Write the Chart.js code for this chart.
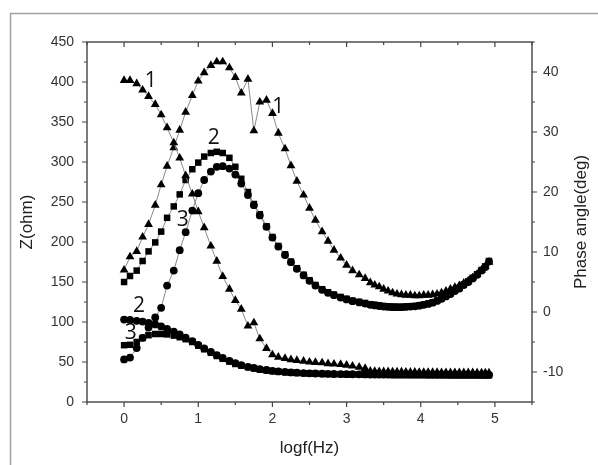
<!DOCTYPE html>
<html>
<head>
<meta charset="utf-8">
<script src="https://cdn.jsdelivr.net/npm/chart.js@4.4.1/dist/chart.umd.min.js"></script>
<style>
  html, body { margin: 0; padding: 0; background: #fff; }
  #wrap { width: 598px; height: 465px; }
</style>
</head>
<body>
<div id="wrap"><canvas id="chart" width="598" height="465"></canvas></div>
<script>
// --- Data ---
const logf = [
  0.00,0.08,0.17,0.25,0.33,0.42,0.50,0.58,0.67,0.75,
  0.83,0.92,1.00,1.08,1.17,1.25,1.33,1.42,1.50,1.58,
  1.67,1.75,1.83,1.92,2.00,2.08,2.17,2.25,2.33,2.42,
  2.50,2.58,2.67,2.75,2.83,2.92,3.00,3.08,3.17,3.25,
  3.32,3.38,3.44,3.50,3.56,3.62,3.68,3.74,3.80,3.86,
  3.92,3.98,4.04,4.10,4.16,4.22,4.28,4.34,4.40,4.46,
  4.52,4.58,4.64,4.70,4.76,4.82,4.87,4.92
];

// impedance, left axis (ohm)
const zCurve1 = [ // triangles
  402,402,398,390,382,372,359,343,324,305,
  283,260,238,218,195,176,157,141,127,116,
  95,99,79,67,59,56,54.5,53,52,51,
  50,49.5,49,48,47.5,47,46,45,43.5,42,
  38.5,38.3,38.1,38,37.9,37.8,37.7,37.6,37.5,37.4,
  37.3,37.2,37.2,37.1,37.0,37.0,36.9,36.9,36.8,36.8,
  36.7,36.7,36.6,36.6,36.5,36.5,36.4,36.4
];
const zCurve2 = [ // circles
  103,102.5,101.5,100.5,99,97,94.5,91.5,88,84.5,
  80.5,76,71.5,67,62.5,58.5,55,51.5,48.5,46,
  44,42.5,41,40,39,38.2,37.6,37,36.6,36.2,
  35.9,35.6,35.4,35.2,35,34.9,34.8,34.7,34.6,34.5,
  34.4,34.4,34.3,34.3,34.3,34.2,34.2,34.2,34.2,34.1,
  34.1,34.1,34.1,34.0,34.0,34.0,34.0,34.0,33.9,33.9,
  33.9,33.9,33.9,33.9,33.8,33.8,33.8,33.8
];
const zCurve3 = [ // squares
  71,71.5,75,80,83.5,85,85,84.5,83,81,
  78.5,75,70.5,66,61.5,57.5,54,50.5,47.5,45.5,
  43.5,42,40.5,39.5,38.5,37.8,37.2,36.7,36.3,35.9,
  35.6,35.3,35.1,34.9,34.7,34.6,34.5,34.4,34.3,34.2,
  34.1,34.1,34.0,34.0,34.0,33.9,33.9,33.9,33.9,33.8,
  33.8,33.8,33.8,33.7,33.7,33.7,33.7,33.7,33.6,33.6,
  33.6,33.6,33.6,33.6,33.5,33.5,33.5,33.5
];

// phase angle, right axis (deg)
const phaseCurve1 = [ // triangles
  7.0,9.2,10.1,12.5,14.6,17.8,21.2,24.3,27.4,30.3,
  33.3,36.1,38.5,39.9,41.1,41.7,41.7,40.7,39.1,36.5,
  38.8,30.2,35.0,35.3,33.1,29.8,27.2,24.4,21.8,19.5,
  17.3,15.3,13.4,11.8,10.3,9.0,7.8,6.9,6.2,5.6,
  4.9,4.5,4.2,3.8,3.5,3.2,3.0,2.9,2.8,2.8,
  2.7,2.7,2.8,2.8,2.9,3.0,3.2,3.5,3.8,4.1,
  4.4,4.8,5.2,5.7,6.3,7.0,7.6,8.3
];
const phaseCurve2 = [ // squares
  5.0,6.0,6.9,8.5,10.1,11.6,13.4,15.7,17.6,19.6,
  22.0,23.8,24.9,25.9,26.5,26.7,26.5,25.7,24.2,22.2,
  20.0,18.0,16.3,14.3,12.5,11.0,9.6,8.4,7.3,6.2,
  5.3,4.5,3.8,3.3,2.9,2.5,2.2,1.9,1.7,1.5,
  1.3,1.2,1.1,1.0,0.95,0.9,0.85,0.85,0.9,0.95,
  1.0,1.1,1.25,1.4,1.6,1.9,2.3,2.7,3.1,3.6,
  4.0,4.6,5.1,5.7,6.3,7.0,7.6,8.5
];
const phaseCurve3 = [ // circles
  -7.9,-7.6,-6.0,-4.3,-2.6,-0.9,0.7,4.4,6.9,10.3,
  13.3,16.9,19.8,22.0,23.4,24.2,24.3,23.9,22.9,21.4,
  19.5,17.8,16.1,14.2,12.4,10.9,9.5,8.3,7.2,6.1,
  5.2,4.4,3.7,3.2,2.8,2.4,2.1,1.8,1.6,1.4,
  1.2,1.1,1.0,0.9,0.85,0.8,0.8,0.8,0.85,0.9,
  0.95,1.05,1.2,1.35,1.55,1.85,2.2,2.6,3.0,3.5,
  3.9,4.5,5.0,5.6,6.2,6.9,7.5,8.4
];

// tick labels
const xTicks = [0, 1, 2, 3, 4, 5];
const zTicks = [0, 50, 100, 150, 200, 250, 300, 350, 400, 450];
const phaseTicks = [-10, 0, 10, 20, 30, 40];

// curve numbers written on the plot (in logf / ohm units)
const curveTags = ['1', '1', '2', '3', '2', '3'];
const curveTagLogf = [0.36, 2.08, 1.21, 0.79, 0.20, 0.09];
const curveTagZ = [401, 369, 330, 227, 120, 86];

const FONT = "'Liberation Sans', Arial, sans-serif";
const LINE_GREY = '#8a8a8a';

function series(ys, axis, shape, radius) {
  return {
    data: logf.map((x, i) => ({ x: x, y: ys[i] })),
    yAxisID: axis,
    showLine: true,
    borderColor: LINE_GREY,
    borderWidth: 1,
    pointStyle: shape,
    pointRadius: radius,
    pointBackgroundColor: '#000',
    pointBorderColor: '#000',
    pointBorderWidth: 0,
    tension: 0
  };
}

// frame, plot box, major/minor ticks, right title and curve numbers
const decorations = {
  id: 'decorations',
  beforeDraw(chart) {
    const ctx = chart.ctx;
    ctx.save();
    ctx.fillStyle = '#fff';
    ctx.fillRect(0, 0, chart.width, chart.height);
    ctx.strokeStyle = '#a0a0a0';
    ctx.lineWidth = 1.5;
    ctx.beginPath();
    ctx.moveTo(10.5, chart.height);
    ctx.lineTo(10.5, 13.5);
    ctx.lineTo(chart.width, 13.5);
    ctx.stroke();
    ctx.restore();
  },
  afterDraw(chart) {
    const { ctx, chartArea: a, scales } = chart;
    ctx.save();
    ctx.strokeStyle = '#444';
    ctx.lineWidth = 1.4;
    ctx.strokeRect(a.left, a.top, a.right - a.left, a.bottom - a.top);

    ctx.lineWidth = 1.2;
    ctx.beginPath();
    // x: bottom outward, top inward
    for (let v = -0.5; v <= 5.5001; v += 0.5) {
      const px = scales.x.getPixelForValue(v);
      const len = Math.abs(v - Math.round(v)) < 1e-6 ? 5 : 3;
      ctx.moveTo(px, a.bottom); ctx.lineTo(px, a.bottom + len);
      ctx.moveTo(px, a.top); ctx.lineTo(px, a.top + len);
    }
    // left axis
    for (let v = 0; v <= 450; v += 25) {
      const py = scales.y.getPixelForValue(v);
      const len = v % 50 === 0 ? 5 : 3;
      ctx.moveTo(a.left, py); ctx.lineTo(a.left - len, py);
    }
    // right axis
    for (let v = -15; v <= 45; v += 5) {
      const py = scales.y1.getPixelForValue(v);
      const len = v % 10 === 0 ? 5 : 3;
      ctx.moveTo(a.right, py); ctx.lineTo(a.right + len, py);
    }
    ctx.stroke();

    // right title, reading bottom to top
    ctx.fillStyle = '#222';
    ctx.font = '17px ' + FONT;
    ctx.textAlign = 'center';
    ctx.textBaseline = 'middle';
    ctx.translate(581, (a.top + a.bottom) / 2);
    ctx.rotate(-Math.PI / 2);
    ctx.fillText('Phase angle(deg)', 0, 0);
    ctx.setTransform(1, 0, 0, 1, 0, 0);

    // curve numbers
    ctx.fillStyle = '#111';
    ctx.font = "21px 'Open Sans', sans-serif";
    curveTags.forEach((t, i) => {
      ctx.fillText(t, scales.x.getPixelForValue(curveTagLogf[i]), scales.y.getPixelForValue(curveTagZ[i]));
    });
    ctx.restore();
  }
};

const tickFont = { family: FONT, size: 14 };

new Chart(document.getElementById('chart'), {
  type: 'scatter',
  data: {
    datasets: [
      series(zCurve2, 'y', 'circle', 3.9),
      series(zCurve3, 'y', 'rect', 4.6),
      series(zCurve1, 'y', 'triangle', 5.1),
      series(phaseCurve3, 'y1', 'circle', 3.9),
      series(phaseCurve2, 'y1', 'rect', 4.6),
      series(phaseCurve1, 'y1', 'triangle', 5.1)
    ]
  },
  options: {
    responsive: false,
    animation: false,
    events: [],
    layout: { padding: { top: 42, left: 0, right: 0, bottom: 0 } },
    plugins: { legend: { display: false }, tooltip: { enabled: false } },
    scales: {
      x: {
        type: 'linear', position: 'bottom', min: -0.5, max: 5.5,
        afterBuildTicks: s => { s.ticks = xTicks.map(v => ({ value: v })); },
        afterFit: s => { s.height = 63; },
        grid: { display: false, drawTicks: false },
        border: { display: false },
        ticks: { padding: 9, color: '#333', font: tickFont, autoSkip: false, maxRotation: 0 },
        title: { display: true, text: 'logf(Hz)', color: '#222', font: { family: FONT, size: 17 }, padding: { top: 0, bottom: 6 } }
      },
      y: {
        type: 'linear', position: 'left', min: 0, max: 450,
        afterBuildTicks: s => { s.ticks = zTicks.map(v => ({ value: v })); },
        afterFit: s => { s.width = 87; },
        grid: { display: false, drawTicks: false },
        border: { display: false },
        ticks: { padding: 13, color: '#333', font: tickFont, autoSkip: false },
        title: { display: true, text: 'Z(ohm)', color: '#222', font: { family: FONT, size: 17 }, padding: { top: 17, bottom: 0 } }
      },
      y1: {
        type: 'linear', position: 'right', min: -15, max: 45,
        afterBuildTicks: s => { s.ticks = phaseTicks.map(v => ({ value: v })); },
        afterFit: s => { s.width = 66; },
        grid: { display: false, drawTicks: false },
        border: { display: false },
        ticks: { padding: 11, color: '#333', font: tickFont, autoSkip: false }
      }
    }
  },
  plugins: [decorations]
});
</script>
</body>
</html>
